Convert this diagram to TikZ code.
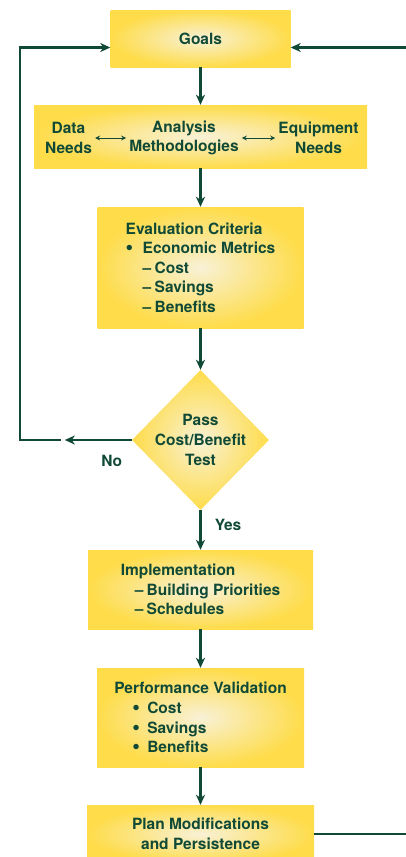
\documentclass[tikz,border=0pt]{standalone}
\usepackage{fontspec}
\usepackage{graphicx}
\setmainfont{TeX Gyre Heros}
\usetikzlibrary{shapes.geometric}
\usetikzlibrary{arrows.meta}
\definecolor{leaf}{RGB}{16,74,54}
\definecolor{sun}{RGB}{254,220,74}
\definecolor{cream}{RGB}{248,241,214}
\newcommand\flowfont{\fontsize{15.5}{19.6}\selectfont\bfseries}
\newcommand\bigdot{\smash{\raisebox{-0.12ex}{\scalebox{1.4}{\textbullet}}}}

\begin{document}
\begin{tikzpicture}[x=1pt,y=1pt,>={Stealth[length=10pt,width=9pt,inset=3pt]},
    box/.style={inner color=cream,outer color=sun,text=leaf,font=\flowfont,inner sep=0pt},
    tag/.style={text=leaf,font=\flowfont,inner sep=3pt},
    flow/.style={->,draw=leaf,line width=2.5pt},
    duo/.style={{Stealth[length=5pt,width=5pt]}-{Stealth[length=5pt,width=5pt]},draw=leaf,line width=1pt}]
    \useasboundingbox (0,0) rectangle (406,-857);
    \clip (0,0) rectangle (406,-857);
    \node[box,minimum width=180pt,minimum height=57pt] (goals) at (200.5,-38.5) {Goals};
    \node[box,minimum width=333pt,minimum height=63pt] (analysis) at (200.5,-136.5) {};
    \node[tag,align=center] (data) at (68.5,-138) {Data\\Needs};
    \node[tag,align=center] (methods) at (184,-138) {Analysis\\Methodologies};
    \node[tag,align=center] (equip) at (318.5,-138) {Equipment\\Needs};
    \draw[duo] (data) -- (methods);
    \draw[duo] (methods) -- (equip);
    \node[box,align=left,minimum width=206pt,minimum height=121pt] (criteria) at (200.5,-267.5)
        {Evaluation Criteria\\
         \makebox[17pt][l]{\bigdot}Economic Metrics\\
         \hspace*{17pt}\makebox[12pt][l]{--}Cost\\
         \hspace*{17pt}\makebox[12pt][l]{--}Savings\\
         \hspace*{17pt}\makebox[12pt][l]{--}Benefits};
    \node[box,diamond,minimum width=137pt,minimum height=140pt,
        label={[tag,align=center]center:{Pass\\Cost/Benefit\\Test}}] (test) at (200.5,-440) {};
    \node[box,align=left,minimum width=225pt,minimum height=79pt] (impl) at (200.5,-589.5)
        {Implementation\\
         \hspace*{14pt}\makebox[12pt][l]{--}Building Priorities\\
         \hspace*{14pt}\makebox[12pt][l]{--}Schedules};
    \node[box,align=left,minimum width=207pt,minimum height=99pt] (validation) at (200.5,-717.5)
        {Performance Validation\\
         \hspace*{18pt}\makebox[15pt][l]{\bigdot}Cost\\
         \hspace*{18pt}\makebox[15pt][l]{\bigdot}Savings\\
         \hspace*{18pt}\makebox[15pt][l]{\bigdot}Benefits};
    \node[box,align=center,minimum width=227pt,minimum height=58pt] (plan) at (200.5,-834)
        {Plan Modifications\\and Persistence};
    \draw[flow] (goals) -- (analysis);
    \draw[flow] (analysis) -- (criteria);
    \draw[flow] (criteria) -- (test);
    \draw[flow] (test) -- node[tag,right=10pt,pos=0.37] {Yes} (impl);
    \draw[flow] (impl) -- (validation);
    \draw[flow] (validation) -- (plan);
    \coordinate (nohead) at ([xshift=-67pt]test.west);
    \coordinate (notail) at ([xshift=-71pt]test.west);
    \coordinate (leftrail) at (20,-440);
    \draw[flow] (test.west) -- node[tag,below=11pt,pos=0.3] {No} (nohead);
    \draw[flow] (notail) -- (leftrail) |- ([yshift=-9pt]goals.west);
    \draw[flow] (plan.east) -- ++(100,0) |- ([yshift=-9pt]goals.east);
\end{tikzpicture}
\end{document}
